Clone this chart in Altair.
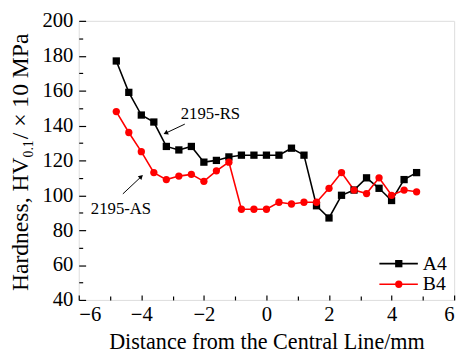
import altair as alt
import pandas as pd

# ---- data ----
x_mm = [-4.8, -4.4, -4.0, -3.6, -3.2, -2.8, -2.4, -2.0, -1.6, -1.2, -0.8, -0.4, 0.0,
        0.4, 0.8, 1.2, 1.6, 2.0, 2.4, 2.8, 3.2, 3.6, 4.0, 4.4, 4.8]
a4 = [177, 159, 146, 142, 128, 126, 128, 119, 120, 122, 123, 123, 123,
      123, 127, 123, 94, 87, 100, 103, 110, 104, 97, 109, 113]
b4 = [148, 136, 125, 113, 109, 111, 112, 108, 114, 119, 92, 92, 92,
      96, 95, 96, 96, 104, 113, 103, 101, 110, 100, 103, 102]

series_names = ["A4", "B4"]
series_colors = ["#000000", "#ff0000"]
series_shapes = ["square", "circle"]

x_major = [-6, -4, -2, 0, 2, 4, 6]
x_minor = [-5, -3, -1, 1, 3, 5]
y_major = [40, 60, 80, 100, 120, 140, 160, 180, 200]
y_minor = [50, 70, 90, 110, 130, 150, 170, 190]

x_title = "Distance from the Central Line/mm"
# y title pieces (main text, subscript, main text)
y_title_parts = ["Hardness, HV", "0.1", "/ × 10 MPa"]

# annotations (data units)
ann_text = ["2195-RS", "2195-AS"]
ann_tx = [-1.79, -4.65]
ann_ty = [146.5, 91.8]
arr_x0 = [-2.61, -4.59]
arr_y0 = [140.8, 100.8]
arr_x1 = [-3.20, -4.02]
arr_y1 = [135.8, 110.4]
arr_angle = [245, 47]

# legend placement (data units)
leg_y = [60.8, 49.0]
leg_x0 = [3.61, 3.61]
leg_x1 = [4.84, 4.84]
leg_xm = [4.23, 4.23]
leg_xt = [5.0, 5.0]

FONT = "Liberation Serif"

rows = []
for xv, av, bv in zip(x_mm, a4, b4):
    rows.append({"x": xv, "y": av, "series": "A4"})
    rows.append({"x": xv, "y": bv, "series": "B4"})
df = pd.DataFrame(rows)

xs = alt.Scale(domain=[-6, 6], nice=False, zero=False)
ys = alt.Scale(domain=[40, 200], nice=False, zero=False)
cs = alt.Scale(domain=series_names, range=series_colors)
ss = alt.Scale(domain=series_names, range=series_shapes)

x_axis_major = alt.Axis(values=x_major, format="d", tickSize=5, offset=-5, domain=False, grid=False,
                        tickColor="black", tickWidth=1.2, labelFont=FONT, labelFontSize=21,
                        labelColor="black", labelPadding=4, title=x_title,
                        titleFont=FONT, titleFontSize=22.5, titleFontWeight="normal", titleColor="black",
                        titlePadding=6)
y_axis_major = alt.Axis(values=y_major, format="d", tickSize=7, offset=-7, domain=False, grid=False,
                        tickColor="black", tickWidth=1.2, labelFont=FONT, labelFontSize=21,
                        labelColor="black", labelPadding=6, title="")
x_axis_minor = alt.Axis(orient="bottom", values=x_minor, tickSize=4, offset=-4, labels=False, domain=False,
                        grid=False, tickColor="black", tickWidth=1.2, title="")
y_axis_minor = alt.Axis(orient="left", values=y_minor, tickSize=4, offset=-4, labels=False, domain=False,
                        grid=False, tickColor="black", tickWidth=1.2, title="")

lines = alt.Chart(df).mark_line(strokeWidth=1.6).encode(
    x=alt.X("x:Q", scale=xs, axis=x_axis_major),
    y=alt.Y("y:Q", scale=ys, axis=y_axis_major),
    color=alt.Color("series:N", scale=cs, legend=None),
    detail="series:N",
)

points = alt.Chart(df).mark_point(filled=True, opacity=1, size=55).encode(
    x=alt.X("x:Q", scale=xs, axis=x_axis_minor),
    y=alt.Y("y:Q", scale=ys, axis=y_axis_minor),
    color=alt.Color("series:N", scale=cs, legend=None),
    shape=alt.Shape("series:N", scale=ss, legend=None),
)

ann_df = pd.DataFrame({"t": ann_text, "tx": ann_tx, "ty": ann_ty, "x0": arr_x0, "y0": arr_y0,
                       "x1": arr_x1, "y1": arr_y1, "ang": arr_angle})

ann_text_layer = alt.Chart(ann_df).mark_text(font=FONT, fontSize=17, color="black").encode(
    x=alt.X("tx:Q", scale=xs, axis=None), y=alt.Y("ty:Q", scale=ys, axis=None), text="t:N")
ann_rule = alt.Chart(ann_df).mark_rule(color="black", strokeWidth=1).encode(
    x=alt.X("x0:Q", scale=xs, axis=None), y=alt.Y("y0:Q", scale=ys, axis=None), x2="x1:Q", y2="y1:Q")
ann_head = alt.Chart(ann_df).mark_point(shape="triangle", filled=True, color="black", size=28, opacity=1).encode(
    x=alt.X("x1:Q", scale=xs, axis=None), y=alt.Y("y1:Q", scale=ys, axis=None), angle=alt.Angle("ang:Q", scale=None))

leg_df = pd.DataFrame({"series": series_names, "ly": leg_y, "lx0": leg_x0, "lx1": leg_x1,
                       "lxm": leg_xm, "lxt": leg_xt})
leg_rule = alt.Chart(leg_df).mark_rule(strokeWidth=1.6).encode(
    x=alt.X("lx0:Q", scale=xs, axis=None), x2="lx1:Q", y=alt.Y("ly:Q", scale=ys, axis=None),
    color=alt.Color("series:N", scale=cs, legend=None))
leg_pt = alt.Chart(leg_df).mark_point(filled=True, opacity=1, size=55).encode(
    x=alt.X("lxm:Q", scale=xs, axis=None), y=alt.Y("ly:Q", scale=ys, axis=None),
    color=alt.Color("series:N", scale=cs, legend=None),
    shape=alt.Shape("series:N", scale=ss, legend=None))
leg_txt = alt.Chart(leg_df).mark_text(font=FONT, fontSize=20, color="black", align="left").encode(
    x=alt.X("lxt:Q", scale=xs, axis=None), y=alt.Y("ly:Q", scale=ys, axis=None), text="series:N")

# y-axis title built from pieces so that "0.1" is a real subscript
yt_df = pd.DataFrame({
    "t": y_title_parts,
    "px": [-52, -47, -52],
    "py": [275, 139, 120.5],
    "fs": [24, 14, 24],
})
y_title_layer = alt.Chart(yt_df).mark_text(font=FONT, color="black", angle=270, align="left",
                                           baseline="alphabetic").encode(
    x=alt.X("px:Q", scale=None, axis=None), y=alt.Y("py:Q", scale=None, axis=None),
    text="t:N", size=alt.Size("fs:Q", scale=None, legend=None))

chart = alt.layer(lines, points, ann_rule, ann_head, ann_text_layer, leg_rule, leg_pt, leg_txt,
                  y_title_layer).resolve_axis(
    x="independent", y="independent"
).resolve_scale(size="independent").properties(
    width=382, height=284,
    autosize=alt.AutoSizeParams(type="none"),
    padding={"left": 72, "top": 10, "right": 8, "bottom": 56},
).configure_view(stroke="black", strokeWidth=1.5).configure(background="white")

chart.save("out.html", embed_options={"renderer": "svg", "actions": False})
